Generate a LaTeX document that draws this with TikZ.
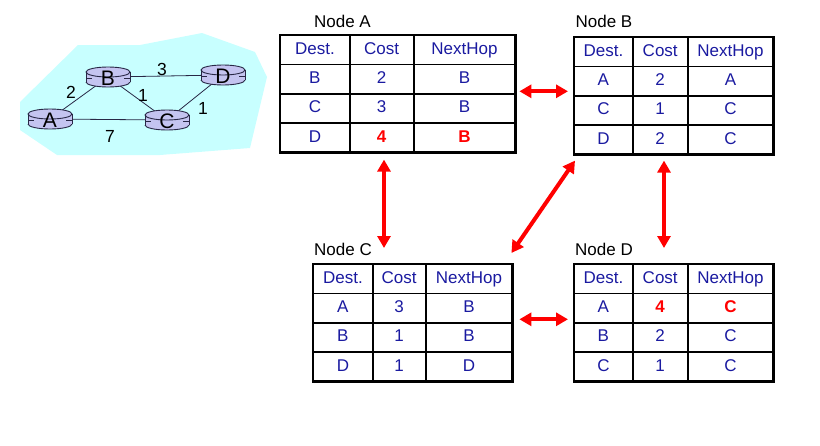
\documentclass[tikz,border=0pt]{standalone}
\usepackage{fontspec}
\setmainfont{Liberation Sans}
\usetikzlibrary{matrix,arrows.meta,shapes.geometric,calc}
\definecolor{tblue}{RGB}{26,26,160}
\definecolor{cloudc}{RGB}{200,255,255}
\definecolor{lav}{RGB}{196,196,240}
\definecolor{rline}{RGB}{40,40,70}
\newcommand\tabfont{\fontsize{17}{20}\selectfont}
\newcommand\routerbody[1]{%
  \fill[lav] ([shift={(-22,-5)}]#1.center) rectangle ([shift={(22,5)}]#1.center);
  \fill[lav] ([shift={(0,5)}]#1.center) ellipse [x radius=22, y radius=5];
  \begin{scope}
    \clip ([shift={(-24,5)}]#1.center) rectangle ([shift={(24,12)}]#1.center);
    \draw[rline, line width=0.9pt] ([shift={(0,5)}]#1.center) ellipse [x radius=22, y radius=5];
  \end{scope}
  \draw[rline, line width=0.9pt] ([shift={(-22,-5)}]#1.center) -- ([shift={(-22,5)}]#1.center);
  \draw[rline, line width=0.9pt] ([shift={(22,-5)}]#1.center) -- ([shift={(22,5)}]#1.center);
  \filldraw[fill=lav, draw=rline, line width=0.9pt] ([shift={(0,-5)}]#1.center) ellipse [x radius=22, y radius=5];
  \draw[rline, line width=0.9pt] ([shift={(-22,1)}]#1.center) -- ([shift={(-16,1)}]#1.center);
  \draw[rline, line width=0.9pt] ([shift={(16,1)}]#1.center) -- ([shift={(22,1)}]#1.center);
}
\tikzset{
  cell/.style={draw, line width=0.8pt, inner sep=0pt, outer sep=0pt,
    minimum height=28.6pt, text height=12.4pt, text depth=3.6pt,
    font=\tabfont, text=tblue, anchor=center},
  rtable/.style={matrix of nodes, ampersand replacement=\&, inner sep=0pt,
    outer sep=0pt, column sep=0pt, row sep=0pt, nodes={cell}},
  hot/.style={text=red, font=\tabfont\bfseries},
  border/.style={line width=2.5pt},
  lbl/.style={inner sep=0pt, font=\tabfont},
  biarrow/.style={red, line width=4pt,
    {Triangle[length=12pt,width=13pt]}-{Triangle[length=12pt,width=13pt]}},
  rpos/.style={ellipse, minimum width=44pt, minimum height=20pt, inner sep=0pt},
  rlab/.style={inner sep=0pt, font=\fontsize{21}{23}\selectfont},
  link/.style={draw=rline, line width=0.8pt},
  wlab/.style={inner sep=0pt, font=\fontsize{17.5}{19}\selectfont},
}
\begin{document}
\begin{tikzpicture}[x=1pt,y=-1pt]
\useasboundingbox (0,0) rectangle (820,445);
% cloud
\fill[cloudc] (20,102) -- (78,45) -- (140,45) -- (202,33) -- (255,52) -- (267,77)
  -- (250,148) -- (160,155) -- (57,155) -- (20,130) -- cycle;
% router positions
\node[rpos] (A) at (50,119) {};
\node[rpos] (B) at (108,77) {};
\node[rpos] (C) at (167,120) {};
\node[rpos] (D) at (223,75) {};
% links
\draw[link] (A) -- (B);
\draw[link] (A) -- (C);
\draw[link] (B) -- (D);
\draw[link] (B) -- (C);
\draw[link] (C) -- (D);
% router bodies
\routerbody{A}
\routerbody{B}
\routerbody{C}
\routerbody{D}
\node[rlab] (Alab) at ([shift={(0,1)}]A.center) {A};
\node[rlab] (Blab) at ([shift={(0,1)}]B.center) {B};
\node[rlab] (Clab) at ([shift={(0,1)}]C.center) {C};
\node[rlab] (Dlab) at ([shift={(0,1)}]D.center) {D};
% link weights
\node[wlab] (wAB) at (71,92) {2};
\node[wlab] (wBD) at (162,69) {3};
\node[wlab] (wBC) at (143,95) {1};
\node[wlab] (wCD) at (203,108) {1};
\node[wlab] (wAC) at (110,136) {7};
% tables
\matrix (tA) [rtable, anchor=north west,
  column 1/.style={nodes={minimum width=69pt}},
  column 2/.style={nodes={minimum width=63pt}},
  column 3/.style={nodes={minimum width=101pt}}] at (280,35) {
  Dest. \& Cost \& NextHop \\
  B \& 2 \& B \\
  C \& 3 \& B \\
  D \& |[hot]| 4 \& |[hot]| B \\
};
\draw[border] (tA.north west) rectangle (tA.south east);
\matrix (tB) [rtable, anchor=north west,
  column 1/.style={nodes={minimum width=58pt}},
  column 2/.style={nodes={minimum width=54pt}},
  column 3/.style={nodes={minimum width=85pt}}] at (574,37) {
  Dest. \& Cost \& NextHop \\
  A \& 2 \& A \\
  C \& 1 \& C \\
  D \& 2 \& C \\
};
\draw[border] (tB.north west) rectangle (tB.south east);
\matrix (tC) [rtable, anchor=north west,
  column 1/.style={nodes={minimum width=59pt}},
  column 2/.style={nodes={minimum width=52pt}},
  column 3/.style={nodes={minimum width=86pt}}] at (313,264) {
  Dest. \& Cost \& NextHop \\
  A \& 3 \& B \\
  B \& 1 \& B \\
  D \& 1 \& D \\
};
\draw[border] (tC.north west) rectangle (tC.south east);
\matrix (tD) [rtable, anchor=north west,
  column 1/.style={nodes={minimum width=58pt}},
  column 2/.style={nodes={minimum width=54pt}},
  column 3/.style={nodes={minimum width=85pt}}] at (574,264) {
  Dest. \& Cost \& NextHop \\
  A \& |[hot]| 4 \& |[hot]| C \\
  B \& 2 \& C \\
  C \& 1 \& C \\
};
\draw[border] (tD.north west) rectangle (tD.south east);
% table labels
\node[lbl] (lA) at (342.5,21) {Node A};
\node[lbl] (lB) at (604,21) {Node B};
\node[lbl] (lC) at (343,249) {Node C};
\node[lbl] (lD) at (604,249) {Node D};
% exchange arrows
\draw[biarrow, shorten <=4pt, shorten >=6pt]
  ([yshift=2.5pt]tA.east) -- ([yshift=2.5pt]tA.east -| tB.west);
\draw[biarrow, shorten <=7pt, shorten >=16pt]
  ([xshift=104pt]tA.south west) -- ([xshift=104pt]tA.south west |- tC.north);
\draw[biarrow, shorten <=6pt, shorten >=16pt]
  ([xshift=90pt]tB.south west) -- ([xshift=90pt]tB.south west |- tD.north);
\draw[biarrow]
  ([shift={(1,6)}]tB.south west) -- ([shift={(-1,-11)}]tC.north east);
\draw[biarrow, shorten <=7pt, shorten >=6pt]
  ([yshift=3.5pt]tC.east) -- ([yshift=3.5pt]tC.east -| tD.west);
\end{tikzpicture}
\end{document}
